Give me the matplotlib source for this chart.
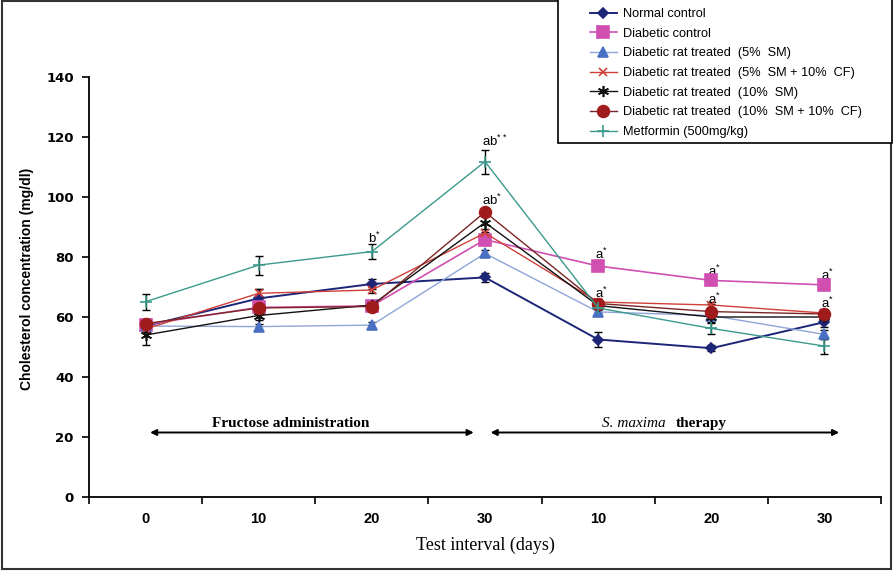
import matplotlib
matplotlib.use("Agg")
import matplotlib.pyplot as plt
from matplotlib.patches import Rectangle

plt.rcParams['font.family'] = ['Liberation Sans', 'DejaVu Sans']
plt.rcParams['mathtext.default'] = 'regular'

# ---- data ----
x_labels = ['0', '10', '20', '30', '10', '20', '30']
normal = [57.0, 66.2, 71.0, 73.2, 52.5, 49.6, 58.3]
diabetic = [57.5, 63.2, 63.7, 85.8, 77.0, 72.2, 70.7]
sm5 = [57.0, 56.8, 57.3, 81.2, 61.7, 60.5, 54.2]
sm5cf = [56.0, 67.9, 69.0, 88.0, 65.0, 64.0, 61.3]
sm10 = [54.0, 60.5, 64.0, 91.5, 63.8, 60.0, 60.0]
sm10cf = [57.8, 63.0, 63.5, 95.0, 64.5, 61.8, 61.0]
metformin = [65.1, 77.3, 81.8, 111.8, 63.0, 56.2, 50.3]

err_normal = [1.5, 3.0, 1.8, 1.5, 2.5, 1.0, 1.5]
err_diabetic = [1.0, 1.0, 1.0, 1.0, 1.0, 1.0, 1.0]
err_sm5 = [1.0, 1.0, 1.0, 1.0, 1.0, 1.0, 1.5]
err_sm5cf = [1.0, 1.3, 1.0, 1.5, 1.0, 1.0, 1.0]
err_sm10 = [3.3, 1.5, 1.5, 3.0, 1.5, 2.0, 1.5]
err_sm10cf = [1.0, 1.0, 1.0, 1.0, 1.0, 2.5, 1.0]
err_metformin = [2.6, 3.2, 2.5, 4.0, 1.5, 2.0, 2.5]

series = [
    ("Normal control", normal, err_normal, '#1c2578', '#1c2578', 'D', 5.5, 1.4),
    ("Diabetic control", diabetic, err_diabetic, '#d14fb0', '#d14fb0', 's', 8, 1.2),
    ("Diabetic rat treated  (5%  SM)", sm5, err_sm5, '#8ea5d8', '#4a70c4', '^', 7, 1.0),
    ("Diabetic rat treated  (5%  SM + 10%  CF)", sm5cf, err_sm5cf, '#d0403a', '#d0403a', 'x', 6, 1.0),
    ("Diabetic rat treated  (10%  SM)", sm10, err_sm10, '#111111', '#111111', (6, 2, 0), 8, 1.0),
    ("Diabetic rat treated  (10%  SM + 10%  CF)", sm10cf, err_sm10cf, '#7a2626', '#a01c1c', 'o', 8.5, 1.0),
    ("Metformin (500mg/kg)", metformin, err_metformin, '#3b9a8c', '#3b9a8c', '+', 8, 1.0),
]

fig = plt.figure(figsize=(8.93, 5.71), dpi=100)
ax = fig.add_axes([89/893, 1-497/571, (881-89)/893, (497-77)/571])

xs = list(range(len(x_labels)))
handles = []
for i, (lab, vals, errs, lc, mc, mk, ms, lw) in enumerate(series):
    ax.errorbar(xs, vals, yerr=errs, fmt='none', ecolor='black', elinewidth=1.0,
                capsize=3, capthick=1.0, zorder=2 + i * 0.1)
    h, = ax.plot(xs, vals, color=lc, lw=lw, marker=mk, markersize=ms,
                 markerfacecolor=mc, markeredgecolor=mc, markeredgewidth=1.2,
                 label=lab, zorder=3 + i * 0.1)
    handles.append(h)

ax.set_xlim(-0.5, 6.5)
ax.set_ylim(0, 140)
ax.set_yticks(range(0, 141, 20))
ax.set_yticklabels([str(v) for v in range(0, 141, 20)], fontweight='bold', fontsize=9.5,
                   family=['DejaVu Sans'])
ax.set_xticks([i + 0.5 for i in range(-1, 7)])
ax.set_xticklabels([''] * 8)
ax.set_xticks(xs, minor=True)
ax.set_xticklabels(x_labels, minor=True, fontweight='bold', fontsize=10.5,
                   family=['Liberation Sans Narrow', 'Liberation Sans', 'DejaVu Sans'])
ax.tick_params(axis='x', which='minor', length=0, pad=10.5)
ax.tick_params(axis='x', which='major', direction='out', length=5, width=1.2)
ax.tick_params(axis='y', direction='out', length=5, width=1.2, pad=6)
for s in ['top', 'right']:
    ax.spines[s].set_visible(False)
for s in ['left', 'bottom']:
    ax.spines[s].set_linewidth(1.3)

ax.set_ylabel('Cholesterol concentration (mg/dl)', fontweight='bold', fontsize=10, labelpad=9)
ax.yaxis.set_label_coords(-0.069, 0.52)
ax.set_xlabel('Test interval (days)', family=['Liberation Serif'], fontsize=13, labelpad=8)

# phase arrows
ax.annotate('', xy=(2.90, 21.5), xytext=(0.04, 21.5),
            arrowprops=dict(arrowstyle='<|-|>', color='black', lw=1.4,
                            mutation_scale=9, shrinkA=0, shrinkB=0))
ax.annotate('', xy=(6.13, 21.5), xytext=(3.05, 21.5),
            arrowprops=dict(arrowstyle='<|-|>', color='black', lw=1.4,
                            mutation_scale=9, shrinkA=0, shrinkB=0))
ax.text(1.28, 23.4, 'Fructose administration', ha='center', va='baseline',
        family=['Liberation Serif'], fontweight='bold', fontsize=11)
ax.text(4.60, 23.4, 'S. maxima', ha='right', va='baseline',
        family=['Liberation Serif'], style='italic', fontsize=11)
ax.text(4.69, 23.4, 'therapy', ha='left', va='baseline',
        family=['Liberation Serif'], fontweight='bold', fontsize=11)

# significance labels
notes = [
    (2, 86.2, 'b$^{*}$'),
    (3, 118.5, 'ab$^{**}$'),
    (3, 98.8, 'ab$^{*}$'),
    (4, 81.0, 'a$^{*}$'),
    (5, 75.2, 'a$^{*}$'),
    (6, 73.7, 'a$^{*}$'),
    (4, 67.7, 'a$^{*}$'),
    (5, 65.7, 'a$^{*}$'),
    (6, 64.5, 'a$^{*}$'),
]
for xx, yy, tt in notes:
    ax.text(xx - 0.03, yy, tt, ha='left', va='center', fontsize=9.5)

# legend (frame drawn separately to match the box geometry)
leg = fig.legend(handles=handles, loc='upper left', bbox_to_anchor=(590/893, 1 - 8/571),
                 fontsize=9.2, frameon=False, labelspacing=0.6, handlelength=2.1,
                 handletextpad=0.45, borderpad=0, borderaxespad=0)
leg.set_zorder(10)
fig.patches.append(Rectangle((558/893, 1 - 143/571), (892-558)/893, 143/571 + 0.01,
                             transform=fig.transFigure, fill=True, facecolor='white',
                             edgecolor='black', lw=1.2, zorder=9))

fig.patches.append(Rectangle((0.002, 0.004), 0.996, 0.994, transform=fig.transFigure,
                             fill=False, edgecolor='#333333', lw=1.5))

fig.savefig('out.png', dpi=100)
